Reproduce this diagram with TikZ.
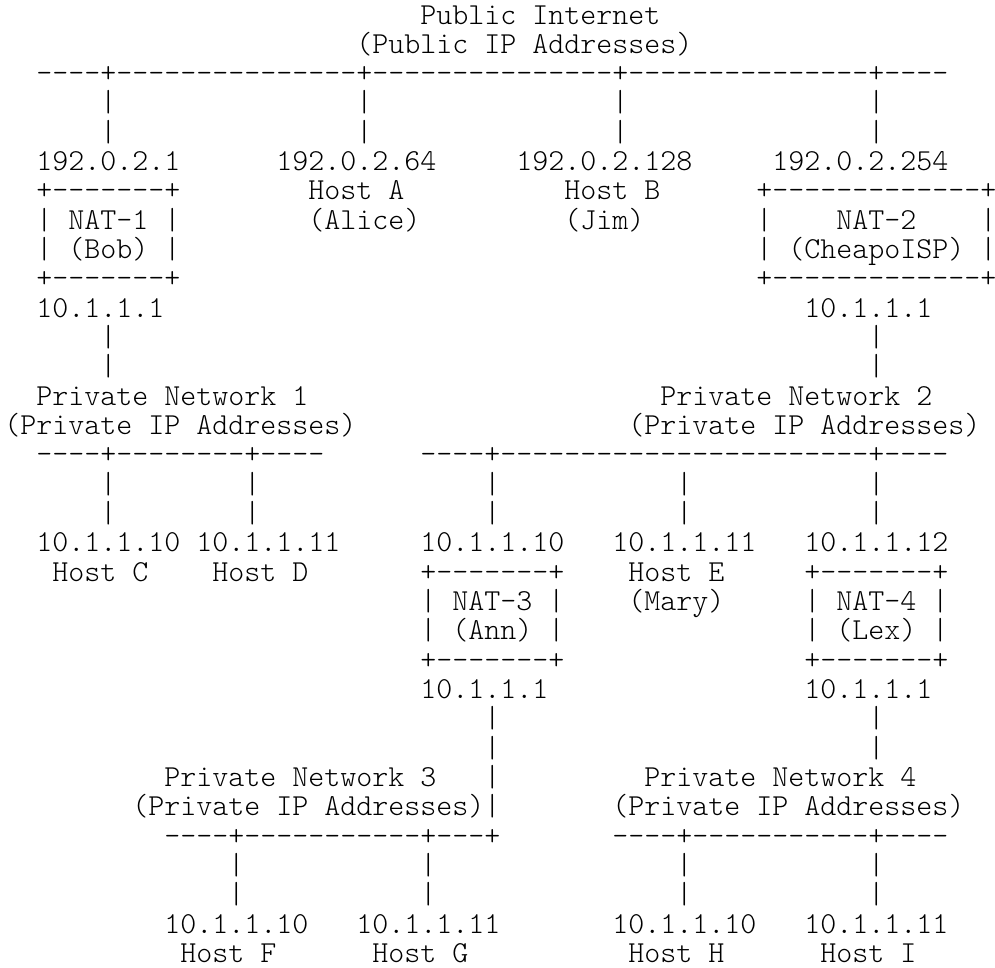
\documentclass[tikz,border=0pt]{standalone}
\usepackage{fontspec}
\setmonofont{lmmonolt10-regular.otf}
\usepackage{tikz}

\begin{document}
\begin{tikzpicture}[
 x=16pt,y=-29.33pt,
 ascii/.style={anchor=base west,inner sep=0pt,outer sep=0pt,
   font=\ttfamily\fontsize{30.48pt}{29.33pt}\selectfont},
 every node/.style={ascii}]
 \useasboundingbox (-4.3pt,24pt) rectangle (990.7pt,-943pt);
 % public internet
 \node (inet) at (26,0) {Public Internet};
 \node (inetsub) at (22,1) {(Public IP Addresses)};
 \node (pubbus) at (2,2) {----+---------------+---------------+---------------+----};
 \foreach \r in {3,4}
   \foreach \c in {6,22,38,54}
     \node (bar-\c-\r) at (\c,\r) {|};
 \node (nat1pub) at (2,5) {192.0.2.1};
 \node (hostapub) at (17,5) {192.0.2.64};
 \node (hostbpub) at (32,5) {192.0.2.128};
 \node (nat2pub) at (48,5) {192.0.2.254};
 % NAT-1, hosts A and B, NAT-2
 \node (nat1top) at (2,6) {+-------+};
 \node (nat1name) at (2,7) {| NAT-1 |};
 \node (nat1who) at (2,8) {| (Bob) |};
 \node (nat1bot) at (2,9) {+-------+};
 \node (hosta) at (19,6) {Host A};
 \node (alice) at (19,7) {(Alice)};
 \node (hostb) at (35,6) {Host B};
 \node (jim) at (35,7) {(Jim)};
 \node (nat2top) at (47,6) {+-------------+};
 \node (nat2name) at (47,7) {|~~~~NAT-2~~~~|};
 \node (nat2who) at (47,8) {| (CheapoISP) |};
 \node (nat2bot) at (47,9) {+-------------+};
 \node (nat1priv) at (2,10) {10.1.1.1};
 \node (nat2priv) at (50,10) {10.1.1.1};
 \foreach \r in {11,12}
   \foreach \c in {6,54}
     \node (bar-\c-\r) at (\c,\r) {|};
 % private networks 1 and 2
 \node (pn1) at (2,13) {Private Network 1};
 \node (pn1sub) at (0,14) {(Private IP Addresses)};
 \node (pn2) at (41,13) {Private Network 2};
 \node (pn2sub) at (39,14) {(Private IP Addresses)};
 \node (bus1) at (2,15) {----+--------+----};
 \node (bus2) at (26,15) {----+-----------------------+----};
 \foreach \r in {16,17}
   \foreach \c in {6,15,30,42,54}
     \node (bar-\c-\r) at (\c,\r) {|};
 \node (hostcip) at (2,18) {10.1.1.10};
 \node (hostdip) at (12,18) {10.1.1.11};
 \node (nat3pub) at (26,18) {10.1.1.10};
 \node (hosteip) at (38,18) {10.1.1.11};
 \node (nat4pub) at (50,18) {10.1.1.12};
 \node (hostc) at (3,19) {Host C};
 \node (hostd) at (13,19) {Host D};
 \node (hoste) at (39,19) {Host E};
 \node (mary) at (39,20) {(Mary)};
 % NAT-3 and NAT-4
 \node (nat3top) at (26,19) {+-------+};
 \node (nat3name) at (26,20) {| NAT-3 |};
 \node (nat3who) at (26,21) {| (Ann) |};
 \node (nat3bot) at (26,22) {+-------+};
 \node (nat4top) at (50,19) {+-------+};
 \node (nat4name) at (50,20) {| NAT-4 |};
 \node (nat4who) at (50,21) {| (Lex) |};
 \node (nat4bot) at (50,22) {+-------+};
 \node (nat3priv) at (26,23) {10.1.1.1};
 \node (nat4priv) at (50,23) {10.1.1.1};
 \foreach \r in {24,25,26,27}
   \node (bar-30-\r) at (30,\r) {|};
 \foreach \r in {24,25}
   \node (bar-54-\r) at (54,\r) {|};
 % private networks 3 and 4
 \node (pn3) at (10,26) {Private Network 3};
 \node (pn3sub) at (8,27) {(Private IP Addresses)};
 \node (pn4) at (40,26) {Private Network 4};
 \node (pn4sub) at (38,27) {(Private IP Addresses)};
 \node (bus3) at (10,28) {----+-----------+---+};
 \node (bus4) at (38,28) {----+-----------+----};
 \foreach \r in {29,30}
   \foreach \c in {14,26,42,54}
     \node (bar-\c-\r) at (\c,\r) {|};
 \node (hostfip) at (10,31) {10.1.1.10};
 \node (hostgip) at (22,31) {10.1.1.11};
 \node (hosthip) at (38,31) {10.1.1.10};
 \node (hostiip) at (50,31) {10.1.1.11};
 \node (hostf) at (11,32) {Host F};
 \node (hostg) at (23,32) {Host G};
 \node (hosth) at (39,32) {Host H};
 \node (hosti) at (51,32) {Host I};
\end{tikzpicture}
\end{document}
